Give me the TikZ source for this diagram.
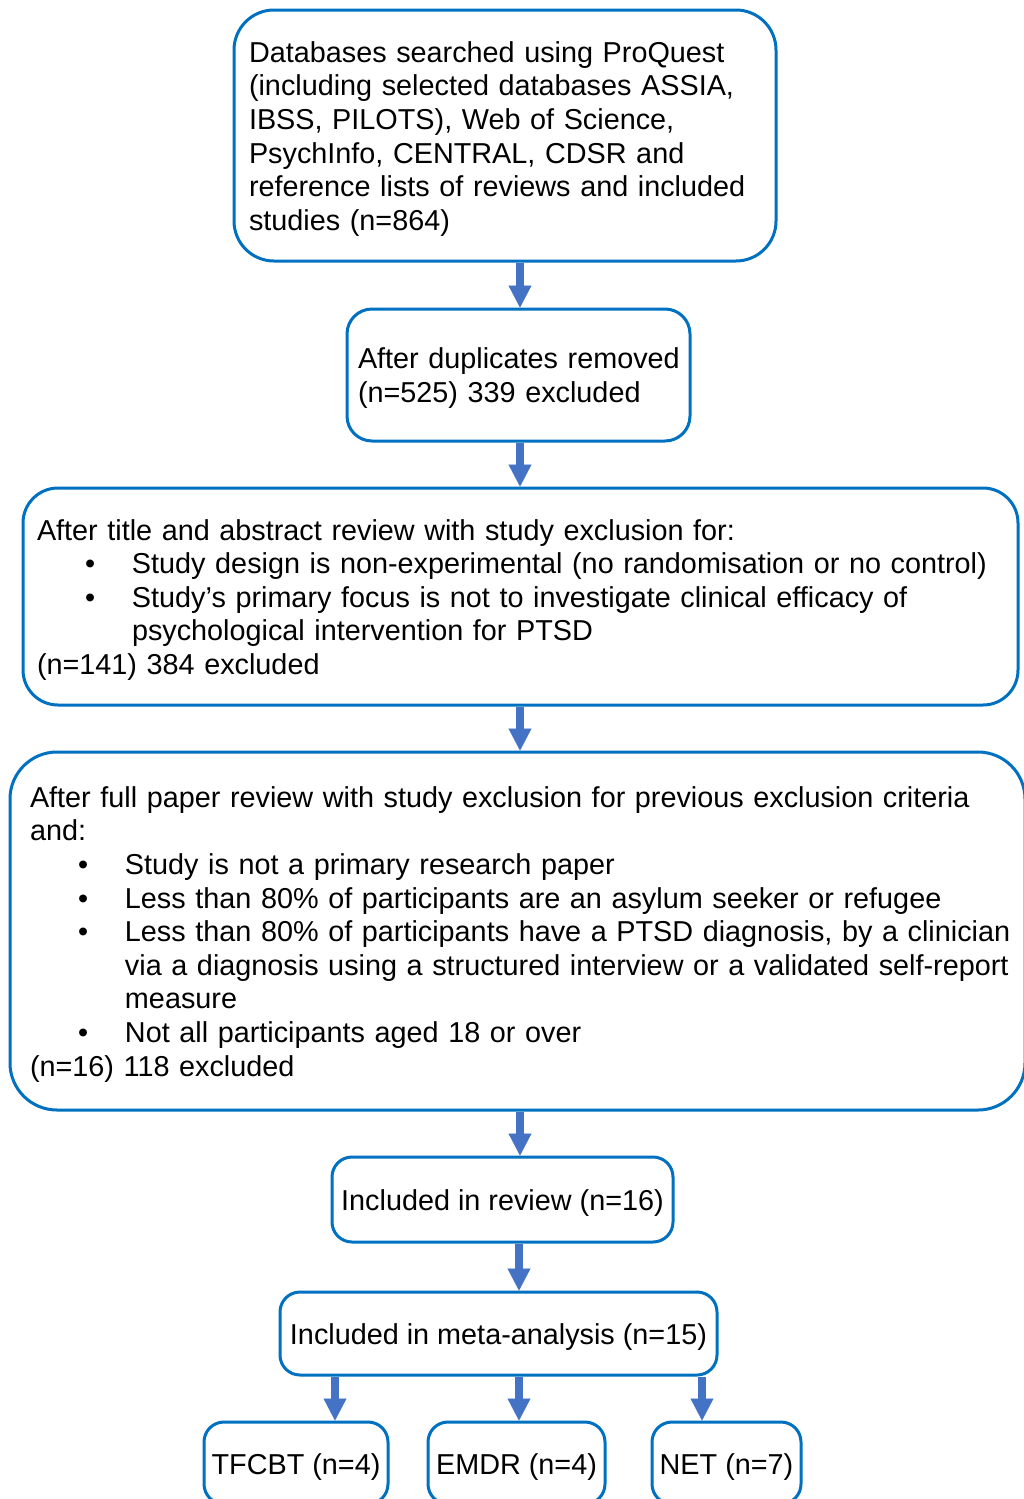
\documentclass[tikz,border=0pt]{standalone}
\usepackage{fontspec}
\setmainfont{Liberation Sans}
\usetikzlibrary{arrows.meta}
\definecolor{boxblue}{RGB}{0,112,192}
\definecolor{arrblue}{RGB}{68,114,196}
\newcommand\bul[1]{\hspace*{48pt}\makebox[47pt][l]{•}#1}
\newcommand\cont[1]{\hspace*{95pt}#1}
\newcommand\dn[1]{\raisebox{-4pt}[\height][\depth]{#1}}
\begin{document}
\begin{tikzpicture}[x=1pt,y=-1pt,
  font=\fontsize{28.8}{33.6}\selectfont,
  flowbox/.style={draw=boxblue, line width=3pt, inner sep=0pt, align=left},
  smallbox/.style={draw=boxblue, line width=3pt, inner sep=0pt, rounded corners=20pt, align=center},
  arr/.style={draw=arrblue, line width=7.6pt, -{Triangle[width=23pt,length=22pt,line width=0.1pt]}}]
\useasboundingbox (0,0) rectangle (1023,1499);
\coordinate (sp) at (520,0);
\coordinate (xa) at (335,0);
\coordinate (xb) at (519,0);
\coordinate (xc) at (702,0);

\node[flowbox, rounded corners=40pt, minimum width=542pt, minimum height=251pt, text width=512pt, inner xsep=15pt] (b1) at (505,135.5)
 {\dn{\begin{tabular}{@{}l@{}}Databases searched using ProQuest\\
 (including selected databases ASSIA,\\
 IBSS, PILOTS), Web of Science,\\
 PsychInfo, CENTRAL, CDSR and\\
 reference lists of reviews and included\\
 studies (n=864)\end{tabular}}};

\node[flowbox, rounded corners=25pt, minimum width=343pt, minimum height=132pt, text width=321pt, inner xsep=11pt] (b2) at (518.5,375)
 {\dn{\begin{tabular}{@{}l@{}}After duplicates removed\\
 (n=525) 339 excluded\end{tabular}}};

\node[flowbox, rounded corners=35pt, minimum width=995pt, minimum height=217pt, text width=967pt, inner xsep=14pt] (b3) at (520.5,596.5)
 {\dn{\begin{tabular}{@{}l@{}}After title and abstract review with study exclusion for:\\
 \bul{Study design is non-experimental (no randomisation or no control)}\\
 \bul{Study’s primary focus is not to investigate clinical efficacy of}\\
 \cont{psychological intervention for PTSD}\\
 (n=141) 384 excluded\end{tabular}}};

\node[flowbox, rounded corners=47pt, minimum width=1015pt, minimum height=358pt, text width=975pt, inner xsep=20pt] (b4) at (517.5,931)
 {\dn{\begin{tabular}{@{}l@{}}After full paper review with study exclusion for previous exclusion criteria\\
 and:\\
 \bul{Study is not a primary research paper}\\
 \bul{Less than 80\% of participants are an asylum seeker or refugee}\\
 \bul{Less than 80\% of participants have a PTSD diagnosis, by a clinician}\\
 \cont{via a diagnosis using a structured interview or a validated self-report}\\
 \cont{measure}\\
 \bul{Not all participants aged 18 or over}\\
 (n=16) 118 excluded\end{tabular}}};

\node[smallbox, minimum width=341pt, minimum height=85pt] (b5) at (502.5,1199.5) {\dn{Included in review (n=16)}};
\node[smallbox, minimum width=437pt, minimum height=83pt] (b6) at (498.5,1333.5) {\dn{Included in meta-analysis (n=15)}};
\node[smallbox, minimum width=184pt, minimum height=82pt] (b7) at (296,1463) {\dn{TFCBT (n=4)}};
\node[smallbox, minimum width=177pt, minimum height=82pt] (b8) at (516.5,1463) {\dn{EMDR (n=4)}};
\node[smallbox, minimum width=149pt, minimum height=82pt] (b9) at (726.5,1463) {\dn{NET (n=7)}};

\draw[arr] (b1.south -| sp) -- (b2.north -| sp);
\draw[arr] (b2.south -| sp) -- (b3.north -| sp);
\draw[arr] (b3.south -| sp) -- (b4.north -| sp);
\draw[arr] (b4.south -| sp) -- (b5.north -| sp);
\draw[arr] (b5.south -| xb) -- (b6.north -| xb);
\draw[arr] (b6.south -| xa) -- (b7.north -| xa);
\draw[arr] (b6.south -| xb) -- (b8.north -| xb);
\draw[arr] (b6.south -| xc) -- (b9.north -| xc);
\end{tikzpicture}
\end{document}
